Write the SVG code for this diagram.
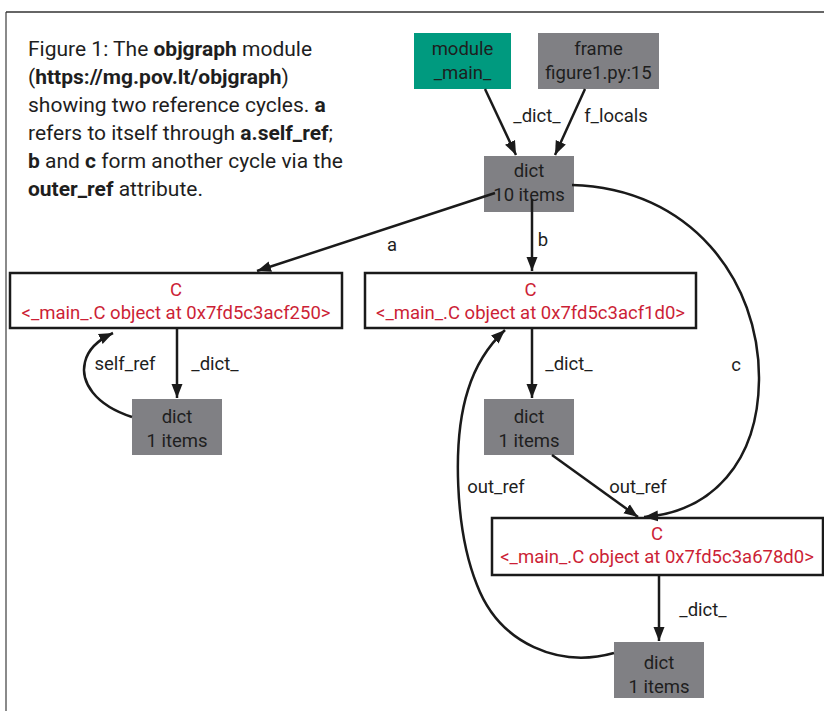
<svg xmlns="http://www.w3.org/2000/svg" width="824" height="711" viewBox="0 0 824 711">
  <style>
    text { font-family: Roboto, "Liberation Sans", sans-serif; fill: #1e1e1e; }
    .cap { font-size: 21px; }
    .b { font-weight: bold; }
    .lbl { font-size: 18.5px; text-anchor: middle; }
    .obj { font-size: 18.5px; text-anchor: middle; fill: #cc1f36; }
    .gray { fill: #808084; }
    .teal { fill: #009a7f; }
    .inst { fill: #ffffff; stroke: #1a1a1a; stroke-width: 2.5; }
    .edge { fill: none; stroke: #1a1a1a; stroke-width: 2.5; marker-end: url(#arrow); }
  </style>
  <defs>
    <marker id="arrow" markerUnits="userSpaceOnUse" markerWidth="15" markerHeight="12" refX="14" refY="6" orient="auto">
      <path d="M0,0.5 L14,6 L0,11.5 z" fill="#1a1a1a"/>
    </marker>
  </defs>

  <!-- page frame -->
  <line x1="6" y1="12" x2="6" y2="711" stroke="#8a8a8a" stroke-width="2"/>
  <line x1="6" y1="12" x2="824" y2="12" stroke="#333333" stroke-width="1.6"/>

  <!-- caption -->
  <g id="caption" class="cap">
    <text x="28" y="56">Figure 1: The <tspan class="b">objgraph</tspan> module</text>
    <text x="28" y="84">(<tspan class="b">https://mg.pov.lt/objgraph</tspan>)</text>
    <text x="28" y="112">showing two reference cycles. <tspan class="b">a</tspan></text>
    <text x="28" y="140">refers to itself through <tspan class="b">a.self_ref</tspan>;</text>
    <text x="28" y="168"><tspan class="b">b</tspan> and <tspan class="b">c</tspan> form another cycle via the</text>
    <text x="28" y="196"><tspan class="b">outer_ref</tspan> attribute.</text>
  </g>

  <!-- nodes -->
  <g id="module_main">
    <rect class="teal" x="414" y="33" width="97" height="56"/>
    <text class="lbl" x="462.5" y="55">module</text>
    <text class="lbl" x="462.5" y="79">_main_</text>
  </g>
  <g id="frame">
    <rect class="gray" x="538" y="33" width="121" height="56"/>
    <text class="lbl" x="598.5" y="55">frame</text>
    <text class="lbl" x="598.5" y="79">figure1.py:15</text>
  </g>
  <g id="dict_globals">
    <rect class="gray" x="484" y="156" width="90" height="56"/>
    <text class="lbl" x="529" y="177">dict</text>
    <text class="lbl" x="529" y="201">10 items</text>
  </g>
  <g id="obj_a">
    <rect class="inst" x="10" y="273" width="332" height="55"/>
    <text class="obj" x="176" y="296">C</text>
    <text class="obj" x="176" y="319">&lt;_main_.C object at 0x7fd5c3acf250&gt;</text>
  </g>
  <g id="obj_b">
    <rect class="inst" x="365" y="273" width="331" height="55"/>
    <text class="obj" x="530.5" y="296">C</text>
    <text class="obj" x="530.5" y="319">&lt;_main_.C object at 0x7fd5c3acf1d0&gt;</text>
  </g>
  <g id="dict_a">
    <rect class="gray" x="132" y="399" width="90" height="56"/>
    <text class="lbl" x="177" y="423">dict</text>
    <text class="lbl" x="177" y="447">1 items</text>
  </g>
  <g id="dict_b">
    <rect class="gray" x="484" y="399" width="90" height="56"/>
    <text class="lbl" x="529" y="423">dict</text>
    <text class="lbl" x="529" y="447">1 items</text>
  </g>
  <g id="obj_c">
    <rect class="inst" x="492" y="518" width="331" height="57"/>
    <text class="obj" x="657" y="540">C</text>
    <text class="obj" x="657" y="563">&lt;_main_.C object at 0x7fd5c3a678d0&gt;</text>
  </g>
  <g id="dict_c">
    <rect class="gray" x="614" y="642" width="90" height="56"/>
    <text class="lbl" x="659" y="669">dict</text>
    <text class="lbl" x="659" y="693">1 items</text>
  </g>

  <!-- connectors -->
  <g id="edges">
    <path class="edge" d="M485,89 L516,155"/>
    <path class="edge" d="M585,89 L555,155"/>
    <path class="edge" d="M495,193 L257,271"/>
    <path class="edge" d="M532,199 L532,271"/>
    <path class="edge" d="M572,185 C690,188 760,280 759,380 C758,462 712,512 644,517"/>
    <path class="edge" d="M177,328 L177,398"/>
    <path class="edge" d="M132,417 C95,405 80,382 85,362 C88,349 98,340 113,333"/>
    <path class="edge" d="M532,328 L532,398"/>
    <path class="edge" d="M552,455 L638,517"/>
    <path class="edge" d="M659,575 L659,641"/>
    <path class="edge" d="M614,653 C560,668 500,645 477,585 C455,530 452,440 468,390 C476,364 489,345 505,330"/>
  </g>

  <!-- connector labels -->
  <g id="edge-labels">
    <text class="lbl" x="537" y="122">_dict_</text>
    <text class="lbl" x="616" y="122">f_locals</text>
    <text class="lbl" x="392" y="251">a</text>
    <text class="lbl" x="543" y="246">b</text>
    <text class="lbl" x="736" y="371">c</text>
    <text class="lbl" x="125" y="370">self_ref</text>
    <text class="lbl" x="215" y="370">_dict_</text>
    <text class="lbl" x="569" y="370">_dict_</text>
    <text class="lbl" x="496" y="493">out_ref</text>
    <text class="lbl" x="638" y="493">out_ref</text>
    <text class="lbl" x="703" y="616">_dict_</text>
  </g>
</svg>
